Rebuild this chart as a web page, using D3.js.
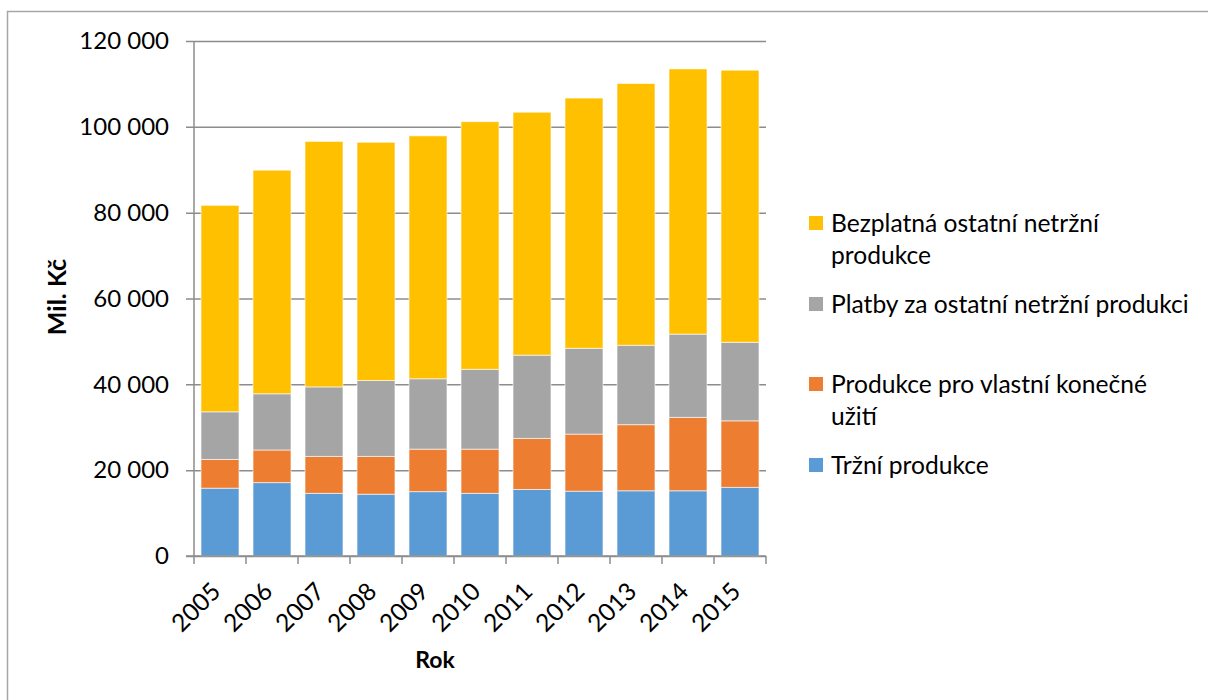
<!DOCTYPE html>
<html>
<head>
<meta charset="utf-8">
<script src="https://cdn.jsdelivr.net/npm/d3@7"></script>
<style>
  body { margin:0; background:#fff; }
  svg { display:block; font-family: Lato, "Open Sans", sans-serif; }
</style>
</head>
<body>
<div id="chart"></div>
<script>
// years and the four stacked series (mil. Kč)
const years = ['2005','2006','2007','2008','2009','2010','2011','2012','2013','2014','2015'];
const trzni     = [15800, 17100, 14600, 14400, 15000, 14600, 15500, 15100, 15200, 15200, 16000];
const vlastni   = [ 6700,  7600,  8600,  8800,  9900, 10300, 11900, 13300, 15400, 17100, 15500];
const platby    = [11100, 13100, 16200, 17700, 16400, 18600, 19400, 20000, 18500, 19400, 18300];
const bezplatna = [48100, 52100, 57200, 55500, 56600, 57700, 56600, 58300, 61000, 61800, 63400];
const yTicks = [0, 20000, 40000, 60000, 80000, 100000, 120000];

const seriesKeys = ['trzni','vlastni','platby','bezplatna'];
const colors = { trzni:'#5B9BD5', vlastni:'#ED7D31', platby:'#A5A5A5', bezplatna:'#FFC000' };

const W = 1208, H = 700;
const plot = { left:194, right:766, top:41, bottom:556 };

const rows = years.map((y,i) => ({year:y, trzni:trzni[i], vlastni:vlastni[i], platby:platby[i], bezplatna:bezplatna[i]}));
const stacked = d3.stack().keys(seriesKeys)(rows);

const x = d3.scaleBand().domain(years).range([plot.left, plot.right]).paddingInner(0.27).paddingOuter(0.135);
const y = d3.scaleLinear().domain([0,120000]).range([plot.bottom, plot.top]);
const fmt = v => d3.format(',')(v).replace(/,/g, ' ');

const svg = d3.select('#chart').append('svg').attr('width', W).attr('height', H);

// outer frame
svg.append('rect').attr('x',7.5).attr('y',11.5).attr('width',W).attr('height',H)
  .attr('fill','none').attr('stroke','#a6a6a6').attr('stroke-width',1.5);

// gridlines + y labels
const gy = svg.append('g').attr('transform',`translate(${plot.left},0)`)
  .call(d3.axisLeft(y).tickValues(yTicks).tickFormat(fmt).tickSize(-(plot.right-plot.left)).tickPadding(25));
gy.select('.domain').remove();
gy.selectAll('.tick line').attr('stroke','#8c8c8c').attr('stroke-width',1.5).attr('x1',-8);
gy.selectAll('.tick text').attr('font-size',24).attr('fill','#000').attr('font-family','Lato, sans-serif');

// bars
svg.append('g').selectAll('g').data(stacked).join('g')
  .attr('fill', d => colors[d.key])
  .selectAll('rect').data(d => d).join('rect')
  .attr('x', d => x(d.data.year))
  .attr('width', x.bandwidth())
  .attr('y', d => y(d[1]))
  .attr('height', d => y(d[0]) - y(d[1]))
  .attr('stroke','#ffffff').attr('stroke-opacity',0.6).attr('stroke-width',1);

// y axis line
svg.append('line').attr('x1',plot.left).attr('x2',plot.left).attr('y1',plot.top).attr('y2',plot.bottom)
  .attr('stroke','#8c8c8c').attr('stroke-width',1.5);

// x axis line with ticks on band edges
svg.append('line').attr('x1',plot.left-8).attr('x2',plot.right).attr('y1',plot.bottom).attr('y2',plot.bottom)
  .attr('stroke','#8c8c8c').attr('stroke-width',1.5);
const edges = years.map(yr => x(yr) - x.step()*x.paddingInner()/2).concat([plot.right]);
svg.append('g').selectAll('line').data(edges).join('line')
  .attr('x1', d => d).attr('x2', d => d).attr('y1', plot.bottom).attr('y2', plot.bottom+8)
  .attr('stroke','#8c8c8c').attr('stroke-width',1.5);

// x labels rotated
svg.append('g').selectAll('text').data(years).join('text')
  .attr('transform', d => `translate(${x(d)+x.bandwidth()/2-4},${plot.bottom+31}) rotate(-45)`)
  .attr('text-anchor','end').attr('dy','0.35em')
  .attr('font-size',24.5).attr('fill','#000').text(d => d);

// axis titles
svg.append('text').attr('x',435).attr('y',668).attr('text-anchor','middle')
  .attr('font-size',23).attr('font-weight','bold').text('Rok');
svg.append('text').attr('transform','translate(66,297) rotate(-90)').attr('text-anchor','middle')
  .attr('font-size',25).attr('font-weight','bold').text('Mil. Kč');

// legend (top to bottom: reverse stack order)
const legendItems = [
  {key:'bezplatna', lines:['Bezplatná ostatní netržní','produkce'], y:223},
  {key:'platby', lines:['Platby za ostatní netržní produkci'], y:304},
  {key:'vlastni', lines:['Produkce pro vlastní konečné','užití'], y:384},
  {key:'trzni', lines:['Tržní produkce'], y:465}
];
const lg = svg.append('g').selectAll('g').data(legendItems).join('g')
  .attr('transform', d => `translate(809,${d.y})`);
lg.append('rect').attr('x',0).attr('y',-7).attr('width',14).attr('height',14).attr('fill', d => colors[d.key]);
lg.append('text').attr('x',22).attr('font-size',24.6).attr('fill','#000')
  .selectAll('tspan').data(d => d.lines).join('tspan')
  .attr('x',22).attr('dy',(d,i) => i===0 ? '0.35em' : 32).text(d => d);
</script>
</body>
</html>
